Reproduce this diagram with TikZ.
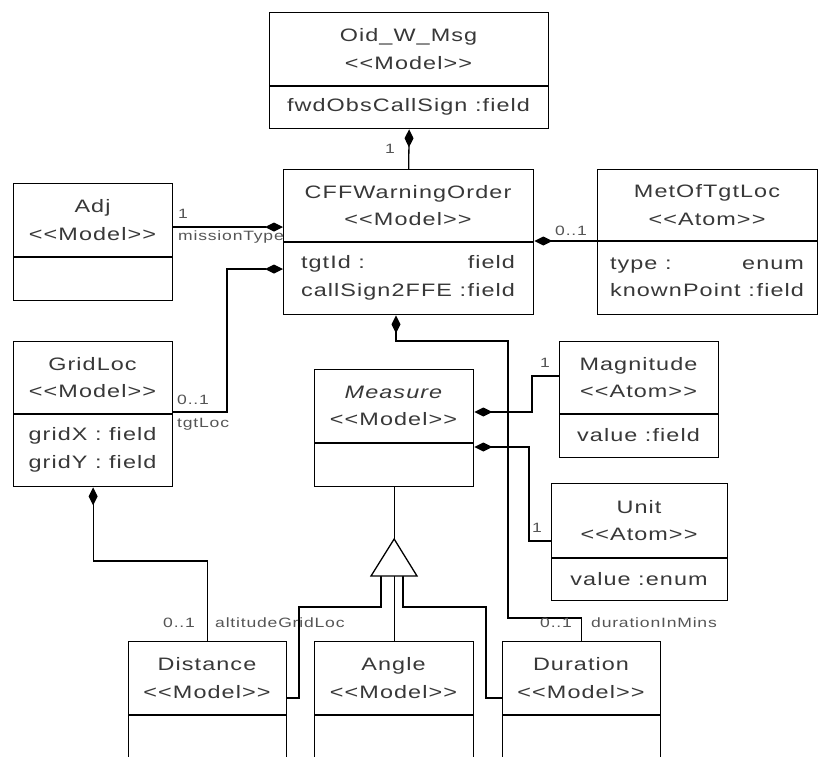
\documentclass[tikz,border=0pt]{standalone}
\usepackage{fontspec}
\setmainfont[FakeStretch=1.3,LetterSpace=6,Ligatures=TeXOff]{Liberation Sans}
\usetikzlibrary{arrows.meta}
\definecolor{txt}{HTML}{383838}
\definecolor{lbl}{HTML}{555555}
\tikzset{
  umlbox/.style={draw=black, line width=1.3pt, fill=white, inner sep=0pt},
  hdr/.style={text=txt, align=center, font=\fontsize{18}{27.5}\selectfont, inner sep=0pt},
  attr/.style={text=txt, align=center, font=\fontsize{18}{27.5}\selectfont, inner sep=0pt},
  lab/.style={text=lbl, font=\fontsize{13.5}{16}\selectfont, inner sep=0pt},
  conn/.style={draw=black, line width=1.3pt},
  comp/.style={conn, {Diamond[length=18pt,width=9pt]}-},
  gen/.style={conn, fill=white, line join=miter},
}
\newcommand\umlclass[8]{%
  \node[umlbox, anchor=north west, minimum width={(#4-#2)*1pt}, minimum height={(#6-#3)*1pt}] (#1) at (#2,#3) {};
  \draw[conn] (#2,#5) -- (#4,#5);
  \node[hdr] (#1-title) at ({(#2+#4)/2},{(#3+#5)/2}) {#7};
  \node[attr] (#1-attrs) at ({(#2+#4)/2},{(#5+#6)/2}) {#8};
}
\begin{document}
\begin{tikzpicture}[x=1pt,y=-1pt]
\useasboundingbox (0,0) rectangle (818,756);
\clip (0,0) rectangle (818,756);
\fill[white] (0,0) rectangle (818,756);

% classes
\umlclass{oid}{269}{12}{548}{86}{128}{Oid\_W\_Msg\\<<Model>>}{fwdObsCallSign :field}
\umlclass{cff}{283}{169}{533}{242}{314}{CFFWarningOrder\\<<Model>>}{\hbox to 214pt{tgtId :\hfill field}\\\hbox to 214pt{callSign2FFE :\hfill field}}
\umlclass{adj}{13}{183}{172}{257}{300}{Adj\\<<Model>>}{}
\umlclass{met}{597}{169}{817}{241}{314}{MetOfTgtLoc\\<<Atom>>}{\hbox to 194pt{type :\hfill enum}\\\hbox to 194pt{knownPoint :\hfill field}}
\umlclass{grid}{13}{341}{172}{414}{486}{GridLoc\\<<Model>>}{gridX : field\\gridY : field}
\umlclass{measure}{314}{369}{473}{443}{486}{{\itshape Measure}\\<<Model>>}{}
\umlclass{magnitude}{559}{341}{718}{414}{457}{Magnitude\\<<Atom>>}{value :field}
\umlclass{unit}{551}{483}{727}{558}{600}{Unit\\<<Atom>>}{value :enum}
\umlclass{distance}{128}{641}{286}{715}{790}{Distance\\<<Model>>}{}
\umlclass{angle}{314}{641}{473}{715}{790}{Angle\\<<Model>>}{}
\umlclass{duration}{502}{641}{660}{715}{790}{Duration\\<<Model>>}{}

% compositions
\draw[comp] (oid.south) -- (cff.north);
\draw[conn, -{Diamond[length=18pt,width=9pt]}] (adj.east |- 0,227) -- (cff.west |- 0,227);
\draw[comp] (cff.west |- 0,269) -| (227,412) -- (grid.east |- 0,412);
\draw[comp] (cff.east |- 0,241) -- (met.west |- 0,241);
\draw[comp] (cff.south -| 396,0) -- (396,341) -| (508,618) -| (duration.north);
\draw[comp] (measure.east |- 0,412) -| (532,376) -- (magnitude.west |- 0,376);
\draw[comp] (measure.east |- 0,447) -| (529,541) -- (unit.west |- 0,541);
\draw[comp] (grid.south) -- (grid.south |- 0,561) -| (distance.north);

% generalization
\coordinate (apex) at (measure.south |- 0,539);
\draw[conn] (measure.south) -- (apex);
\draw[conn] (381,576) -- (381,607) -| (299,698) -- (distance.east |- 0,698);
\draw[conn] (angle.north |- 0,576) -- (angle.north);
\draw[conn] (403,576) -- (403,607) -| (486,698) -- (duration.west |- 0,698);
\draw[gen] (apex) -- (371,576) -- (417,576) -- cycle;

% labels
\node[lab, anchor=east] (l1) at (395,149) {1};
\node[lab, anchor=west] (l2) at (178,214) {1};
\node[lab, anchor=west] (l3) at (178,237) {missionType};
\node[lab, anchor=west] (l4) at (555,231) {0..1};
\node[lab, anchor=west] (l5) at (177,400) {0..1};
\node[lab, anchor=west] (l6) at (177,424) {tgtLoc};
\node[lab, anchor=west] (l7) at (540,363) {1};
\node[lab, anchor=west] (l8) at (532,528) {1};
\node[lab, anchor=west] (l9) at (163,623) {0..1};
\node[lab, anchor=west] (l10) at (215,623) {altitudeGridLoc};
\node[lab, anchor=west] (l11) at (540,623) {0..1};
\node[lab, anchor=west] (l12) at (591,623) {durationInMins};
\end{tikzpicture}
\end{document}
